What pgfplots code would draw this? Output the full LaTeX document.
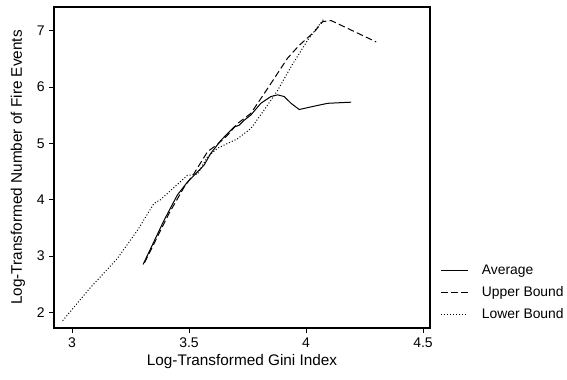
\documentclass[border=0pt]{standalone}
\usepackage{pgfplots}
\pgfplotsset{compat=1.18}
\usepackage{fontspec}
\setmainfont{Liberation Sans}
\begin{document}
\begin{tikzpicture}
\begin{axis}[name=ax, scale only axis, width=282pt, height=240.75pt,
  xmin=2.923, xmax=4.53, ymin=1.72, ymax=7.42,
  xtick={3,3.5,4,4.5}, ytick={2,3,4,5,6,7},
  tick align=outside, tick pos=left, major tick length=3.5pt,
  axis line style={line width=0.8pt}, tick style={line width=0.6pt, black},
  tick label style={font=\fontsize{10.5}{12}\selectfont},
  /pgf/number format/assume math mode=true,
  xlabel={Log-Transformed Gini Index},
  ylabel={Log-Transformed Number of Fire Events},
  label style={font=\fontsize{11.5}{13}\selectfont},
  xlabel style={at={(axis description cs:0.5,-0.106)}, anchor=center},
  ylabel style={at={(axis description cs:-0.0957,0.5)}, anchor=center},
  legend style={draw=none, fill=none, at={(1,0)}, anchor=south west, xshift=5pt, yshift=1.5pt,
    font=\fontsize{10.4}{12}\selectfont, row sep=3.5pt, cells={anchor=west}},
  legend cell align=left,
  legend image code/.code={\draw[#1] (0pt,0pt) -- (20pt,0pt); \path (28pt,0pt);},
]
\addplot[black, line width=0.75pt] coordinates {
(3.304,2.85) (3.393,3.63) (3.45,4.08) (3.493,4.31) (3.536,4.49) (3.564,4.61)
(3.593,4.82) (3.636,5.05) (3.664,5.17) (3.693,5.29) (3.714,5.32) (3.736,5.41)
(3.764,5.50) (3.807,5.71) (3.85,5.83) (3.879,5.86) (3.907,5.83) (3.936,5.71)
(3.971,5.60) (4.036,5.66) (4.093,5.71) (4.193,5.73)};
\addlegendentry{Average}
\addplot[black, line width=0.75pt, dash pattern=on 5pt off 2.5pt] coordinates {
(3.31,2.88) (3.414,3.75) (3.479,4.22) (3.521,4.46) (3.579,4.85) (3.621,4.98)
(3.664,5.14) (3.707,5.35) (3.764,5.53) (3.821,5.88) (3.864,6.15) (3.921,6.51)
(3.971,6.74) (4.036,6.98) (4.071,7.16) (4.107,7.18) (4.3,6.80)};
\addlegendentry{Upper Bound}
\addplot[black, line width=0.75pt, dash pattern=on 0.75pt off 1.5pt] coordinates {
(2.96,1.85) (3.079,2.44) (3.193,2.95) (3.279,3.45) (3.35,3.93) (3.379,4.0)
(3.421,4.16) (3.493,4.43) (3.536,4.45) (3.579,4.76) (3.621,4.91) (3.707,5.08)
(3.764,5.26) (3.821,5.59) (3.879,5.94) (3.936,6.36) (4.007,6.83) (4.05,7.07)
(4.079,7.22)};
\addlegendentry{Lower Bound}
\end{axis}
\pgfresetboundingbox
\path ([xshift=-40.5pt,yshift=-38.25pt]ax.south west) rectangle ([xshift=102.75pt,yshift=5.25pt]ax.north east);
\end{tikzpicture}
\end{document}
